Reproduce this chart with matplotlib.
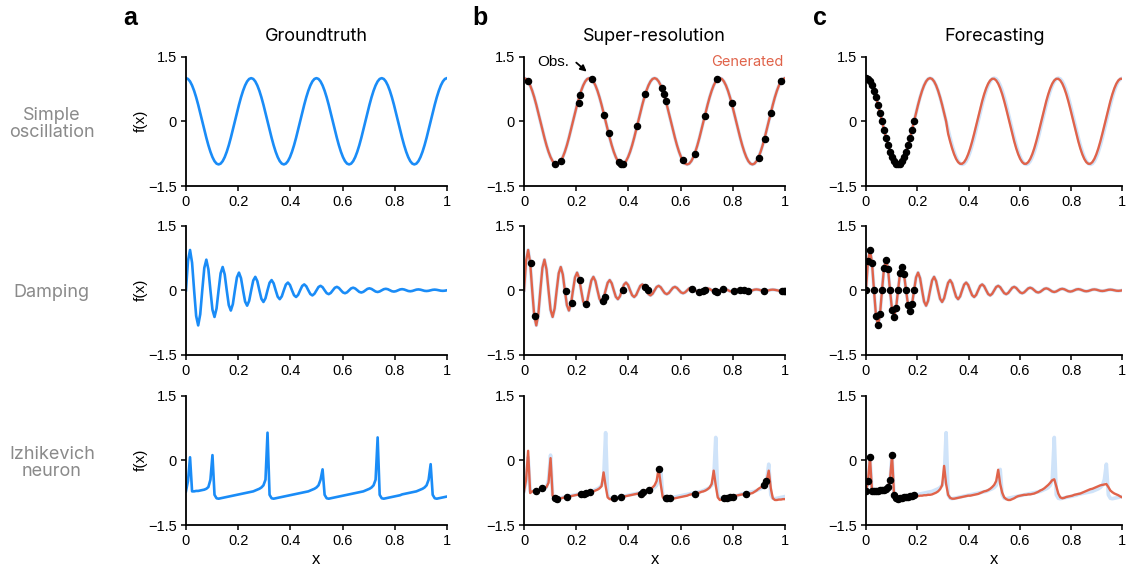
import numpy as np
import matplotlib
matplotlib.use("Agg")
import matplotlib.pyplot as plt

plt.rcParams['font.family'] = ['Liberation Sans', 'DejaVu Sans']
TITLE_FONT = ['Inter', 'DejaVu Sans']

# sample grid: 129 samples on [0, 1]
x_grid = np.linspace(0, 1, 129)

# ---- simple oscillation ----
gt_osc = [
    1.0, 0.981, 0.924, 0.831, 0.707, 0.556, 0.383, 0.195, 0.0, -0.195, -0.383, -0.556, -0.707, -0.831, -0.924, -0.981,
    -1.0, -0.981, -0.924, -0.831, -0.707, -0.556, -0.383, -0.195, 0.0, 0.195, 0.383, 0.556, 0.707, 0.831, 0.924, 0.981,
    1.0, 0.981, 0.924, 0.831, 0.707, 0.556, 0.383, 0.195, 0.0, -0.195, -0.383, -0.556, -0.707, -0.831, -0.924, -0.981,
    -1.0, -0.981, -0.924, -0.831, -0.707, -0.556, -0.383, -0.195, 0.0, 0.195, 0.383, 0.556, 0.707, 0.831, 0.924, 0.981,
    1.0, 0.981, 0.924, 0.831, 0.707, 0.556, 0.383, 0.195, 0.0, -0.195, -0.383, -0.556, -0.707, -0.831, -0.924, -0.981,
    -1.0, -0.981, -0.924, -0.831, -0.707, -0.556, -0.383, -0.195, 0.0, 0.195, 0.383, 0.556, 0.707, 0.831, 0.924, 0.981,
    1.0, 0.981, 0.924, 0.831, 0.707, 0.556, 0.383, 0.195, 0.0, -0.195, -0.383, -0.556, -0.707, -0.831, -0.924, -0.981,
    -1.0, -0.981, -0.924, -0.831, -0.707, -0.556, -0.383, -0.195, 0.0, 0.195, 0.383, 0.556, 0.707, 0.831, 0.924, 0.981,
    1.0,
]
sr_osc = gt_osc
fc_osc = [
    1.0, 0.981, 0.924, 0.831, 0.707, 0.556, 0.383, 0.195, 0.0, -0.195, -0.383, -0.556, -0.707, -0.831, -0.924, -0.981,
    -1.0, -0.981, -0.924, -0.831, -0.707, -0.556, -0.383, -0.195, 0.0, 0.195, 0.383, 0.556, 0.707, 0.831, 0.924, 0.981,
    1.0, 0.981, 0.924, 0.831, 0.707, 0.556, 0.383, 0.195, 0.0,
    -0.287, -0.466, -0.628, -0.765, -0.873, -0.947, -0.985,
    -0.985, -0.947, -0.873, -0.765, -0.629, -0.467, -0.288, -0.097, 0.097, 0.287, 0.466, 0.628, 0.765, 0.873, 0.947, 0.985,
    0.985, 0.947, 0.873, 0.765, 0.629, 0.467, 0.288, 0.097, -0.097, -0.287, -0.466, -0.628, -0.765, -0.873, -0.947, -0.985,
    -0.985, -0.947, -0.873, -0.765, -0.629, -0.467, -0.288, -0.097, 0.097, 0.287, 0.466, 0.628, 0.765, 0.873, 0.947, 0.985,
    0.985, 0.947, 0.873, 0.765, 0.629, 0.467, 0.288, 0.097, -0.097, -0.287, -0.466, -0.628, -0.765, -0.873, -0.947, -0.985,
    -0.985, -0.947, -0.873, -0.765, -0.629, -0.467, -0.288, -0.097, 0.097, 0.287, 0.466, 0.628, 0.765, 0.873, 0.947, 0.985,
    0.985,
]
obs_osc_x = [0.015, 0.119, 0.142, 0.211, 0.214, 0.261, 0.307, 0.325, 0.363, 0.373, 0.380, 0.434, 0.465,
             0.528, 0.536, 0.545, 0.609, 0.655, 0.694, 0.740, 0.797, 0.900, 0.923, 0.946, 0.986]
obs_osc_y = [0.94, -0.98, -0.91, 0.43, 0.60, 0.98, 0.14, -0.26, -0.95, -1.0, -1.0, -0.11, 0.64,
             0.78, 0.64, 0.47, -0.89, -0.75, 0.13, 0.98, 0.43, -0.85, -0.40, 0.19, 0.94]

# ---- damping ----
gt_damp = [
    0.0, 0.683, 0.934, 0.638, 0.0, -0.595, -0.814, -0.556,
    0.0, 0.519, 0.709, 0.485, 0.0, -0.452, -0.618, -0.422,
    0.0, 0.394, 0.539, 0.368, 0.0, -0.343, -0.470, -0.321,
    0.0, 0.299, 0.409, 0.280, 0.0, -0.261, -0.357, -0.244,
    0.0, 0.227, 0.311, 0.212, 0.0, -0.198, -0.271, -0.185,
    0.0, 0.173, 0.236, 0.161, 0.0, -0.150, -0.206, -0.141,
    0.0, 0.131, 0.179, 0.123, 0.0, -0.114, -0.156, -0.107,
    0.0, 0.100, 0.136, 0.093, 0.0, -0.087, -0.119, -0.081,
    0.0, 0.076, 0.103, 0.071, 0.0, -0.066, -0.090, -0.062,
    0.0, 0.058, 0.079, 0.054, 0.0, -0.050, -0.069, -0.047,
    0.0, 0.044, 0.060, 0.041, 0.0, -0.038, -0.052, -0.036,
    0.0, 0.033, 0.045, 0.031, 0.0, -0.029, -0.040, -0.027,
    0.0, 0.025, 0.034, 0.024, 0.0, -0.022, -0.030, -0.021,
    0.0, 0.019, 0.026, 0.018, 0.0, -0.017, -0.023, -0.016,
    0.0, 0.015, 0.020, 0.014, 0.0, -0.013, -0.017, -0.012,
    0.0, 0.011, 0.015, 0.010, 0.0, -0.010, -0.013, -0.009,
    0.0,
]
sr_damp = gt_damp
fc_damp = gt_damp
obs_damp_x = [0.027, 0.043, 0.160, 0.184, 0.214, 0.239, 0.301, 0.309, 0.380, 0.465, 0.473, 0.645, 0.670,
              0.685, 0.694, 0.731, 0.740, 0.764, 0.803, 0.827, 0.841, 0.858, 0.921, 0.989, 0.994, 0.999]
obs_damp_y = [0.63, -0.60, -0.02, -0.29, 0.24, -0.32, -0.25, -0.16, 0.0, 0.07, 0.0, 0.04, -0.03,
              -0.01, 0.0, -0.02, -0.03, 0.02, -0.01, 0.01, 0.01, -0.01, -0.01, -0.01, -0.01, -0.01]

# ---- izhikevich neuron ----
gt_izh = [
    -0.72, -0.48, 0.07, -0.72, -0.72, -0.71, -0.71, -0.70, -0.69, -0.68, -0.66, -0.62, -0.45, 0.12,
    -0.80, -0.88, -0.89, -0.88, -0.87, -0.86, -0.85, -0.84, -0.83, -0.82, -0.81, -0.80, -0.79,
    -0.78, -0.77, -0.76, -0.75, -0.74, -0.73, -0.72, -0.70, -0.68, -0.66, -0.63, -0.58, -0.45, 0.64,
    -0.80, -0.88, -0.89, -0.88, -0.87, -0.86, -0.85, -0.84, -0.83, -0.82, -0.81, -0.80, -0.79,
    -0.78, -0.77, -0.76, -0.75, -0.74, -0.73, -0.72, -0.70, -0.68, -0.66, -0.63, -0.58, -0.45, -0.21,
    -0.80, -0.88, -0.89, -0.88, -0.87, -0.86, -0.85, -0.84, -0.83, -0.82, -0.81, -0.80, -0.79,
    -0.78, -0.77, -0.76, -0.75, -0.74, -0.73, -0.72, -0.70, -0.68, -0.66, -0.63, -0.58, -0.45, 0.53,
    -0.80, -0.88, -0.89, -0.88, -0.87, -0.86, -0.85, -0.84, -0.83, -0.82, -0.81, -0.79,
    -0.78, -0.77, -0.76, -0.75, -0.74, -0.73, -0.72, -0.70, -0.68, -0.66, -0.63, -0.58, -0.45, -0.09,
    -0.80, -0.88, -0.89, -0.88, -0.87, -0.86, -0.85, -0.84,
]
sr_izh = [
    -0.72, -0.45, 0.22, -0.76, -0.72, -0.71, -0.71, -0.70, -0.69, -0.67, -0.65, -0.62, -0.52, 0.05,
    -0.82, -0.89, -0.90, -0.89, -0.88, -0.87, -0.86, -0.85, -0.84, -0.83, -0.82, -0.81, -0.80,
    -0.79, -0.78, -0.77, -0.76, -0.75, -0.74, -0.73, -0.72, -0.70, -0.68, -0.65, -0.60, -0.28,
    -0.60, -0.86, -0.90, -0.90, -0.89, -0.88, -0.87, -0.86, -0.85, -0.84, -0.83, -0.82, -0.81,
    -0.80, -0.79, -0.78, -0.77, -0.76, -0.74, -0.72, -0.70, -0.68, -0.66, -0.63, -0.58, -0.48, -0.19,
    -0.55, -0.85, -0.91, -0.92, -0.91, -0.90, -0.89, -0.88, -0.87, -0.86, -0.85, -0.84, -0.83,
    -0.82, -0.80, -0.79, -0.78, -0.77, -0.76, -0.75, -0.73, -0.72, -0.70, -0.67, -0.63, -0.55, -0.24,
    -0.58, -0.86, -0.92, -0.91, -0.89, -0.88, -0.86, -0.85, -0.84, -0.83, -0.82, -0.81, -0.80,
    -0.79, -0.79, -0.78, -0.78, -0.77, -0.76, -0.73, -0.70, -0.66, -0.63, -0.60, -0.56, -0.47, -0.24,
    -0.65, -0.88, -0.92, -0.92, -0.91, -0.91, -0.90, -0.90,
]
fc_izh = gt_izh[:25] + [
    -0.83, -0.83, -0.82, -0.82, -0.81, -0.81, -0.80, -0.80, -0.79, -0.77, -0.75, -0.72, -0.67, -0.58,
    -0.13, -0.55, -0.80, -0.87, -0.89, -0.89, -0.88, -0.87, -0.86, -0.85, -0.84, -0.83, -0.82, -0.82,
    -0.81, -0.80, -0.79, -0.78, -0.76, -0.74, -0.72, -0.71, -0.69, -0.66, -0.62, -0.57, -0.48, -0.22,
    -0.55, -0.75, -0.86, -0.90, -0.92, -0.92, -0.90, -0.88, -0.85, -0.83, -0.82, -0.81, -0.80, -0.80,
    -0.79, -0.79, -0.78, -0.77, -0.75, -0.73, -0.70, -0.68, -0.65, -0.61, -0.57, -0.52, -0.46, -0.44,
    -0.60, -0.77, -0.86, -0.88, -0.87, -0.85, -0.84, -0.83, -0.82, -0.80, -0.79, -0.78, -0.77, -0.75,
    -0.73, -0.71, -0.69, -0.67, -0.66, -0.64, -0.62, -0.60, -0.58, -0.57, -0.56, -0.55, -0.62, -0.70,
    -0.74, -0.77, -0.79, -0.81, -0.84, -0.86,
]
obs_izh_x = [0.046, 0.070, 0.119, 0.125, 0.165, 0.218, 0.228, 0.238, 0.252, 0.346, 0.370, 0.447, 0.456,
             0.480, 0.518, 0.543, 0.549, 0.558, 0.654, 0.766, 0.776, 0.789, 0.802, 0.849, 0.920, 0.928]
obs_izh_y = [-0.71, -0.65, -0.88, -0.90, -0.86, -0.78, -0.77, -0.75, -0.73, -0.88, -0.86, -0.77, -0.74,
             -0.68, -0.21, -0.88, -0.88, -0.88, -0.77, -0.88, -0.87, -0.85, -0.84, -0.78, -0.58, -0.47]

n_context = 25  # forecasting context samples

row_names = ["Simple\noscillation", "Damping", "Izhikevich\nneuron"]
col_titles = ["Groundtruth", "Super-resolution", "Forecasting"]
panel_letters = ["a", "b", "c"]

gt_rows = [gt_osc, gt_damp, gt_izh]
sr_rows = [sr_osc, sr_damp, sr_izh]
fc_rows = [fc_osc, fc_damp, fc_izh]
obs_rows = [(obs_osc_x, obs_osc_y), (obs_damp_x, obs_damp_y), (obs_izh_x, obs_izh_y)]

BLUE = "#1a8cf7"
LIGHT = "#cfe3f9"
ORANGE = "#e0634a"
GREY = "#8a8a8a"

fig = plt.figure(figsize=(11.27, 5.69), dpi=100)

lefts = [0.165, 0.465, 0.7684]
widths = [0.2316, 0.2316, 0.2275]
bottoms = [0.6731, 0.3761, 0.0773]
height = 0.2275

for r in range(3):
    for c in range(3):
        ax = fig.add_axes([lefts[c], bottoms[r], widths[c], height])
        if c == 0:
            ax.plot(x_grid, gt_rows[r], color=BLUE, lw=1.9)
        elif c == 1:
            ax.plot(x_grid, gt_rows[r], color=LIGHT, lw=2.6)
            ax.plot(x_grid, sr_rows[r], color=ORANGE, lw=1.7)
            ox, oy = obs_rows[r]
            ax.plot(ox, oy, 'o', color='black', ms=4.4, zorder=5)
        else:
            ax.plot(x_grid, gt_rows[r], color=LIGHT, lw=2.6)
            ax.plot(x_grid, fc_rows[r], color=ORANGE, lw=1.7)
            ax.plot(x_grid[:n_context], gt_rows[r][:n_context], 'o', color='black', ms=4.4, zorder=5)

        ax.set_xlim(0, 1)
        ax.set_ylim(-1.5, 1.5)
        ax.set_xticks([0, 0.2, 0.4, 0.6, 0.8, 1])
        ax.set_xticklabels(["0", "0.2", "0.4", "0.6", "0.8", "1"])
        ax.set_yticks([-1.5, 0, 1.5])
        ax.set_yticklabels(["\u22121.5", "0", "1.5"])
        for s in ["top", "right"]:
            ax.spines[s].set_visible(False)
        for s in ["left", "bottom"]:
            ax.spines[s].set_linewidth(1.3)
        ax.tick_params(direction='out', length=3.5, width=1.1, labelsize=10.5, pad=3)

        if c == 0:
            ax.set_ylabel("f(x)", fontsize=11, labelpad=0)
        if r == 2:
            ax.set_xlabel("x", fontsize=12, labelpad=3)
        if r == 0:
            ax.set_title(col_titles[c], fontsize=13, pad=11, family=TITLE_FONT)
        if r == 0 and c == 1:
            ax.annotate("", xy=(0.240, 1.15), xytext=(0.200, 1.36),
                        arrowprops=dict(arrowstyle='-|>', color='black', lw=1.3,
                                        mutation_scale=9, shrinkA=0, shrinkB=0))
            ax.text(0.111, 1.37, "Obs.", ha='center', va='center', fontsize=11)
            ax.text(0.995, 1.37, "Generated", ha='right', va='center', fontsize=10.5,
                    color=ORANGE, family=TITLE_FONT)

# row labels
for r, name in enumerate(row_names):
    yc = bottoms[r] + height / 2 - 0.004
    fig.text(0.046, yc, name, ha='center', va='center', fontsize=13, color=GREY,
             linespacing=1.0, family=TITLE_FONT)

# panel letters
for c, letter in enumerate(panel_letters):
    fig.text([0.109, 0.419, 0.721][c], 0.968, letter, ha='left', va='center',
             fontsize=18, fontweight='bold')

fig.savefig("out.png", dpi=100)
